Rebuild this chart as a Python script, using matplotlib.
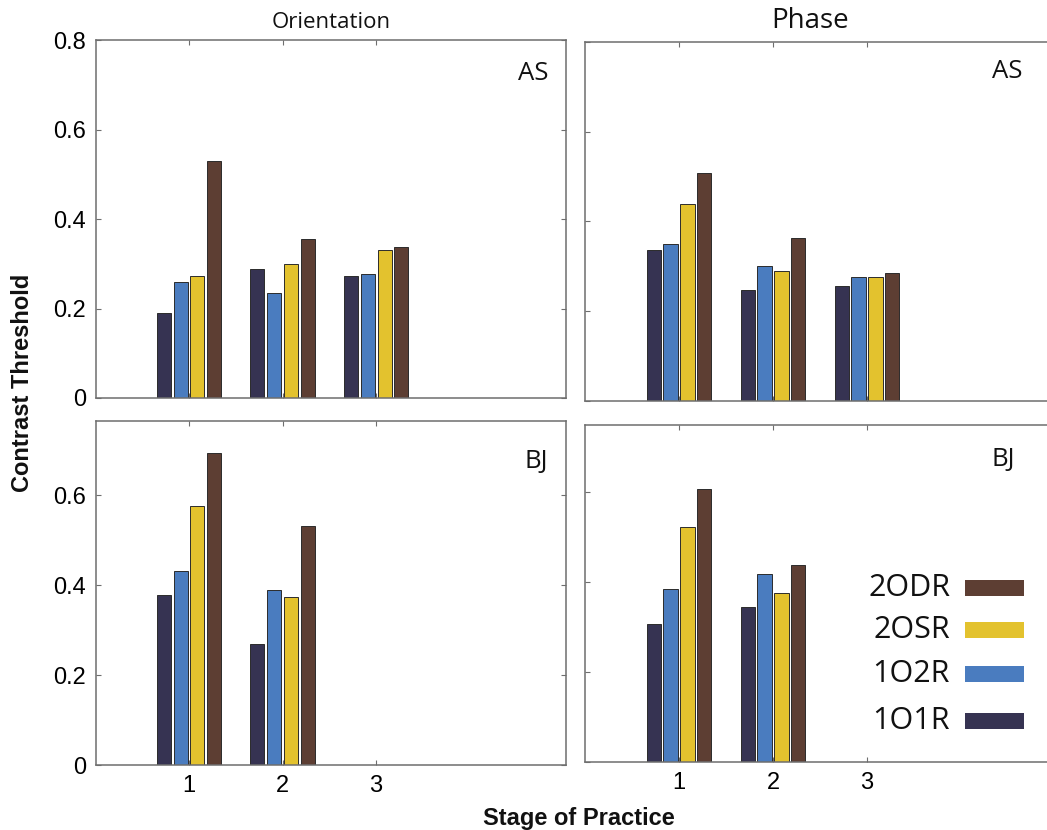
import matplotlib
matplotlib.use("Agg")
import matplotlib.pyplot as plt
from matplotlib.patches import Rectangle
import numpy as np

# ---------------- data ----------------
stages = [1, 2, 3]
stage_labels = ["1", "2", "3"]
conditions = ["1O1R", "1O2R", "2OSR", "2ODR"]
colors = ["#363352", "#4a7cbf", "#e3c22e", "#5d3e33"]

# Orientation, observer AS (stages 1-3)
o_as_1o1r = [0.190, 0.288, 0.272]
o_as_1o2r = [0.259, 0.236, 0.277]
o_as_2osr = [0.274, 0.299, 0.331]
o_as_2odr = [0.531, 0.356, 0.338]
# Phase, observer AS (stages 1-3)
p_as_1o1r = [0.336, 0.248, 0.257]
p_as_1o2r = [0.350, 0.301, 0.277]
p_as_2osr = [0.440, 0.290, 0.276]
p_as_2odr = [0.508, 0.364, 0.285]
# Orientation, observer BJ (stages 1-2)
o_bj_1o1r = [0.378, 0.270]
o_bj_1o2r = [0.432, 0.390]
o_bj_2osr = [0.577, 0.375]
o_bj_2odr = [0.695, 0.533]
# Phase, observer BJ (stages 1-2)
p_bj_1o1r = [0.307, 0.344]
p_bj_1o2r = [0.385, 0.419]
p_bj_2osr = [0.523, 0.376]
p_bj_2odr = [0.607, 0.439]

W, H = 1047, 830
fig = plt.figure(figsize=(W / 100, H / 100), dpi=100)

def rect(l, t, r, b):
    return [l / W, 1 - b / H, (r - l) / W, (b - t) / H]

SPINE = "#6e6e6e"
TICKFONT = "Liberation Sans"
LABFONT = "Open Sans"

panels = [
    (rect(95.5, 40.5, 566, 398), (0, 5.03), (0, 0.8),
     [o_as_1o1r, o_as_1o2r, o_as_2osr, o_as_2odr], [0, 0.2, 0.4, 0.6, 0.8], True, False, "AS", (549, 73)),
    (rect(585, 42, 1055, 401), (0, 5.0), (0, 0.8),
     [p_as_1o1r, p_as_1o2r, p_as_2osr, p_as_2odr], [0, 0.2, 0.4, 0.6, 0.8], False, False, "AS", (1022, 72)),
    (rect(95.5, 421.5, 566, 765), (0, 5.03), (0, 0.7645),
     [o_bj_1o1r, o_bj_1o2r, o_bj_2osr, o_bj_2odr], [0, 0.2, 0.4, 0.6], True, True, "BJ", (548, 461)),
    (rect(585, 425, 1055, 762), (0, 5.0), (0, 0.750),
     [p_bj_1o1r, p_bj_1o2r, p_bj_2osr, p_bj_2odr], [0, 0.2, 0.4, 0.6], False, True, "BJ", (1015, 459)),
]

offsets = [-0.27, -0.09, 0.09, 0.27]
bw = 0.15

for (r, xl, yl, series, yt, showy, showx, tag, tpos) in panels:
    ax = fig.add_axes(r)
    ax.set_axisbelow(True)
    for vals, off, c in zip(series, offsets, colors):
        x = np.array(stages[:len(vals)], dtype=float) + off
        ax.bar(x, vals, width=bw, color=c, edgecolor="#2b2b2b", linewidth=0.7, zorder=2)
    ax.set_xlim(*xl)
    ax.set_ylim(*yl)
    ax.set_xticks(stages)
    ax.set_yticks(yt)
    ax.tick_params(direction="in", length=3.5, width=0.8, color=SPINE,
                   top=True, right=True, labelsize=17, pad=7)
    if showx:
        ax.set_xticklabels(stage_labels, fontfamily=TICKFONT)
    else:
        ax.set_xticklabels([])
    if showy:
        ax.set_yticklabels(["0" if v == 0 else f"{v:.1f}" for v in yt], fontfamily=TICKFONT)
    else:
        ax.set_yticklabels([])
    for s in ax.spines.values():
        s.set_color(SPINE)
        s.set_linewidth(1.1)
    fig.text(tpos[0] / W, 1 - tpos[1] / H, tag, ha="right", va="center",
             fontsize=18.5, fontfamily=LABFONT, color="#111111")

# column titles
fig.text(331 / W, 1 - 23 / H, "Orientation", ha="center", va="center",
         fontsize=16, fontfamily=LABFONT, color="#111111")
fig.text(810 / W, 1 - 21 / H, "Phase", ha="center", va="center",
         fontsize=20, fontfamily=LABFONT, color="#111111")

# axis labels
fig.text(23 / W, 1 - 383 / H, "Contrast Threshold", rotation=90, ha="center", va="center",
         fontsize=17, fontweight="bold", fontfamily=TICKFONT, color="#111111")
fig.text(579 / W, 1 - 818 / H, "Stage of Practice", ha="center", va="center",
         fontsize=17, fontweight="bold", fontfamily=TICKFONT, color="#111111")

# legend (top entry first)
leg_rows = [("2ODR", colors[3], 588), ("2OSR", colors[2], 630),
            ("1O2R", colors[1], 674), ("1O1R", colors[0], 721)]
for lab, c, yc in leg_rows:
    fig.text(950 / W, 1 - yc / H, lab, ha="right", va="center",
             fontsize=22, fontfamily=LABFONT, color="#111111")
    fig.add_artist(Rectangle((965 / W, 1 - (yc + 8) / H), 59 / W, 16 / H,
                             transform=fig.transFigure, facecolor=c,
                             edgecolor="none"))

fig.savefig("out.png", dpi=100)
